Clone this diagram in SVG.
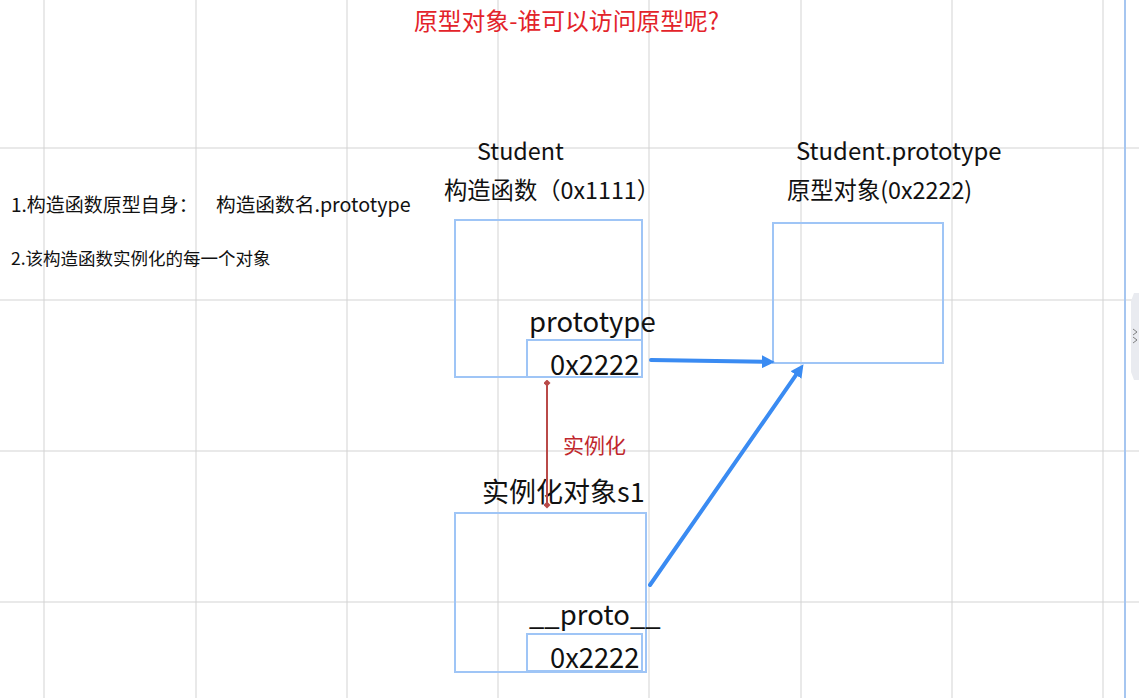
<svg xmlns="http://www.w3.org/2000/svg" width="1139" height="698" viewBox="0 0 1139 698">
  <style>
    .grid line { stroke: #d3d3d3; stroke-width: 1; }
    .box { fill: none; stroke: #9fc5f6; stroke-width: 2; }
    .t { font-family: "Noto Sans CJK SC", "Noto Sans", sans-serif; fill: #111; }
    .blue { stroke: #3a8bf2; stroke-width: 4; fill: none; stroke-linecap: round; }
  </style>
  <defs>
    <marker id="ah" viewBox="0 0 12 12" refX="2" refY="6" markerWidth="13" markerHeight="13" markerUnits="userSpaceOnUse" orient="auto">
      <path d="M0,0 L12,6 L0,12 z" fill="#3a8bf2"/>
    </marker>
    <marker id="rh" viewBox="0 0 8 8" refX="4" refY="4" markerWidth="7" markerHeight="7" markerUnits="userSpaceOnUse" orient="auto-start-reverse">
      <path d="M0,4 L4,0 L8,4 L4,8 z" fill="#b94a48"/>
    </marker>
  </defs>
  <rect width="1139" height="698" fill="#ffffff"/>
  <g class="grid">
    <line x1="44" y1="0" x2="44" y2="698"/>
    <line x1="196" y1="0" x2="196" y2="698"/>
    <line x1="347" y1="0" x2="347" y2="698"/>
    <line x1="498" y1="0" x2="498" y2="698"/>
    <line x1="649" y1="0" x2="649" y2="698"/>
    <line x1="801" y1="0" x2="801" y2="698"/>
    <line x1="952" y1="0" x2="952" y2="698"/>
    <line x1="1103" y1="0" x2="1103" y2="698"/>
    <line x1="0" y1="148" x2="1139" y2="148"/>
    <line x1="0" y1="300" x2="1139" y2="300"/>
    <line x1="0" y1="451" x2="1139" y2="451"/>
    <line x1="0" y1="602" x2="1139" y2="602"/>
  </g>
  <line x1="1125" y1="0" x2="1125" y2="698" stroke="#a6c6f0" stroke-width="2"/>
  <g id="side-tab">
    <path d="M1134,293 L1139,293 L1139,380 L1134,380 L1131,372 L1131,301 z" fill="#e9ebf0"/>
    <path d="M1133,329 L1137,332 L1133,335 M1133,337 L1137,340 L1133,343" stroke="#666" stroke-width="0.8" fill="none"/>
  </g>

  <g id="title">
    <text class="t" x="414" y="30" font-size="23.8" style="fill:#e3232a">原型对象-谁可以访问原型呢?</text>
  </g>
  <g id="notes">
    <text class="t" x="11" y="212" font-size="19">1.构造函数原型自身：</text>
    <text class="t" x="216" y="212" font-size="19.7">构造函数名.prototype</text>
    <text class="t" x="11" y="265" font-size="17.5">2.该构造函数实例化的每一个对象</text>
  </g>

  <g id="constructor">
    <text class="t" x="477" y="160" font-size="23.4">Student</text>
    <text class="t" x="444" y="199" font-size="23.3">构造函数（0x1111）</text>
    <rect class="box" x="455" y="220" width="187" height="157"/>
    <rect class="box" x="527" y="340" width="115" height="37"/>
    <text class="t" x="529" y="332" font-size="27.5">prototype</text>
    <text class="t" x="550" y="375" font-size="27.3">0x2222</text>
  </g>

  <g id="prototype-object">
    <text class="t" x="796" y="160" font-size="23.9">Student.prototype</text>
    <text class="t" x="787" y="199" font-size="23.3">原型对象(0x2222)</text>
    <rect class="box" x="773" y="223" width="170" height="140"/>
  </g>

  <g id="instance">
    <text class="t" x="482" y="502" font-size="27">实例化对象s1</text>
    <rect class="box" x="455" y="513" width="191" height="159"/>
    <rect class="box" x="527" y="634" width="115" height="37"/>
    <text class="t" x="529" y="625" font-size="27.5">__proto__</text>
    <text class="t" x="550" y="668" font-size="27.3">0x2222</text>
  </g>

  <g id="connectors">
    <line class="blue" x1="651" y1="360" x2="764" y2="361.8" marker-end="url(#ah)"/>
    <line class="blue" x1="650" y1="585" x2="797.3" y2="373.2" marker-end="url(#ah)"/>
    <line x1="547" y1="383" x2="547" y2="505" stroke="#b94a48" stroke-width="2" marker-start="url(#rh)" marker-end="url(#rh)"/>
    <text class="t" x="563" y="453" font-size="21" style="fill:#c0272d">实例化</text>
  </g>
</svg>
